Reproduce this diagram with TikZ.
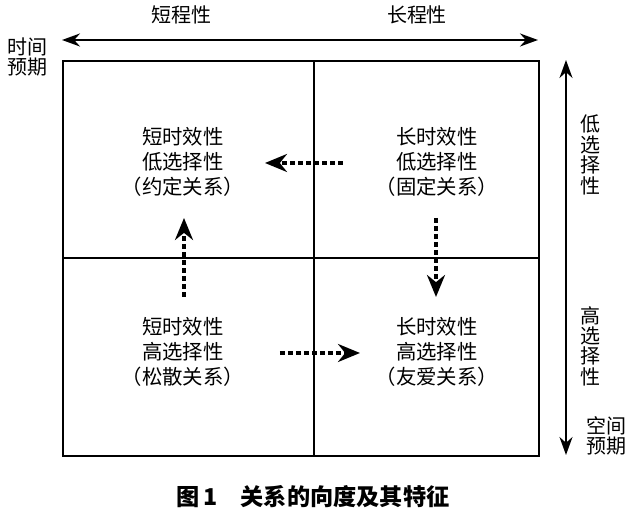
\documentclass[tikz,border=0pt]{standalone}
\usepackage{fontspec}
\setmainfont{Noto Sans CJK SC}
\usetikzlibrary{arrows.meta}

\begin{document}
\begin{tikzpicture}[x=0.5pt, y=-0.5pt]
        % styles %
        \tikzstyle{quad} = [align=center, inner sep=0pt, font=\fontsize{10.2}{12.4}\selectfont];
        \tikzstyle{side} = [align=center, inner sep=0pt, font=\fontsize{10}{10.2}\selectfont];
        \tikzstyle{frame} = [line width=1pt];
        \tikzstyle{axis} = [{Stealth[length=9pt,width=6.5pt]}-{Stealth[length=9pt,width=6.5pt]}, line width=1pt];
        \tikzstyle{drift} = [-{Stealth[length=11pt,width=9pt]}, line width=1.6pt, dash pattern=on 2.5pt off 1.5pt];

        \useasboundingbox (0,0) rectangle (634,523);

        % frame %
        \draw [frame] (63,61) rectangle (539,456);
        \draw [frame] (314,61) -- (314,456);
        \draw [frame] (63,258) -- (539,258);

        % nodes %
        \node [quad] (tl) at (183,162) {短时效性\\低选择性\\（约定关系）};
        \node [quad] (tr) at (437,162) {长时效性\\低选择性\\（固定关系）};
        \node [quad] (bl) at (183,352) {短时效性\\高选择性\\（松散关系）};
        \node [quad] (br) at (437,352) {长时效性\\高选择性\\（友爱关系）};

        \node [side] (short) at (182,15) {短程性};
        \node [side] (long) at (417,15) {长程性};
        \node [side] (time) at (28,57) {时间\\预期};
        \node [side] (low) at (591,155) {低\\选\\择\\性};
        \node [side] (high) at (591,346) {高\\选\\择\\性};
        \node [side] (space) at (607,436) {空间\\预期};
        \node [inner sep=0pt, font=\fontsize{11.6}{12}\selectfont\bfseries] (cap) at (313,497) {图\,1\quad 关系的向度及其特征};

        % arrow ends %
        \coordinate (tW) at (62,40);
        \coordinate (tE) at (538,40);
        \coordinate (sN) at (566,60);
        \coordinate (sS) at (566,455);
        \coordinate (a1) at (343,163);
        \coordinate (a2) at (265,163);
        \coordinate (b1) at (184,297);
        \coordinate (b2) at (184,218);
        \coordinate (c1) at (436,218);
        \coordinate (c2) at (436,297);
        \coordinate (d1) at (280,353);
        \coordinate (d2) at (360,353);

        % edges %
        \draw [axis] (tW) -- (tE);
        \draw [axis] (sN) -- (sS);
        \draw [drift] (a1) -- (a2);
        \draw [drift] (b1) -- (b2);
        \draw [drift] (c1) -- (c2);
        \draw [drift] (d1) -- (d2);
\end{tikzpicture}
\end{document}
